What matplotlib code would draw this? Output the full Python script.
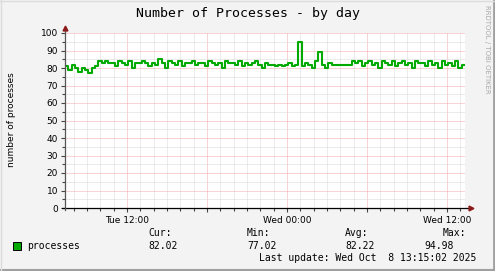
import numpy as np
import matplotlib
matplotlib.use("Agg")
import matplotlib.pyplot as plt
from matplotlib.patches import Rectangle
from matplotlib.lines import Line2D

# hours since Tue 00:00, one sample every 15 minutes
t_start = 7.35
t_step = 0.25
processes = [
    81, 79, 82, 80, 78, 80, 79, 77, 80, 81,
    84,
    83, 84, 83, 83, 81, 84, 83, 82, 84, 80, 83, 83, 84, 83, 81,
    83, 82, 85, 83, 80, 84, 83, 82, 84, 81, 83, 83, 84, 82, 83,
    83, 81, 84, 83, 82, 83, 80, 84, 83, 83, 82, 84, 81, 83, 82,
    83, 84, 82, 80, 83, 82, 82, 81, 82, 81, 82, 83, 81, 82,
    95,
    81, 83, 82, 80, 84,
    89,
    82, 80, 83, 82, 82, 82, 82, 82, 82,
    84, 83, 84, 81, 83, 84, 82, 83, 80, 84, 83, 82, 84, 81, 83, 84, 82,
    83, 80, 84, 83, 83, 81, 84, 82, 83, 80, 84, 82, 83, 81, 84, 80, 82,
]
x_ticks = [12, 24, 36]
x_tick_labels = ["Tue 12:00", "Wed 00:00", "Wed 12:00"]
y_ticks = list(range(0, 101, 10))
stats_names = ["Cur:", "Min:", "Avg:", "Max:"]
stats_values = ["82.02", "77.02", "82.22", "94.98"]

W, H = 495, 271
fig = plt.figure(figsize=(W / 100, H / 100), dpi=100, facecolor="#F3F3F3")


def fx(x):
    return x / W


def fy(y):
    return 1 - y / H


ax = fig.add_axes([fx(65), fy(208), 400 / W, 175 / H])
ax.set_facecolor("white")
for s in ax.spines.values():
    s.set_visible(False)

t = t_start + t_step * np.arange(len(processes))
t = np.append(t, 37.25)
vals = processes + [processes[-1]]
ax.plot(t, vals, color="#00AA00", lw=1.5, drawstyle="steps-post", zorder=3)

ax.set_xlim(7.35, 37.35)
ax.set_ylim(0, 100)

ax.set_xticks([12, 18, 24, 30, 36])
ax.set_xticklabels([x_tick_labels[0], "", x_tick_labels[1], "", x_tick_labels[2]])
ax.set_xticks(np.arange(8, 38, 1), minor=True)
ax.set_yticks(y_ticks)
ax.set_yticks(np.arange(5, 100, 10), minor=True)

ax.tick_params(axis="both", which="major", length=3, width=0.8, color="#444444",
               labelsize=6.5, pad=2)
ax.tick_params(axis="both", which="minor", length=2, width=0.8, color="#444444")
ax.tick_params(axis="x", which="major", pad=3)

# dotted grid, like rrdtool
grid_dash = (0, (1, 1))
ax.grid(which="major", color="#F2A8A8", lw=0.72, linestyle=grid_dash)
ax.grid(which="minor", color="#D8D8D8", lw=0.72, linestyle=grid_dash)
ax.set_axisbelow(True)

# axis lines with arrows
ax.plot([7.1, 37.75], [0, 0], color="black", lw=0.9, clip_on=False, zorder=4)
ax.plot([7.35, 7.35], [-1.2, 102.5], color="#555555", lw=0.9, clip_on=False, zorder=4)
ax.plot([37.8], [0], marker=">", ms=3.5, color="#8B1A1A", clip_on=False, zorder=5)
ax.plot([7.35], [102.8], marker="^", ms=3.5, color="#8B1A1A", clip_on=False, zorder=5)

mono = "DejaVu Sans Mono"
fig.text(fx(248), fy(14), "Number of Processes - by day", family=mono, fontsize=9.5,
         ha="center", va="center")
fig.text(fx(12), fy(120), "number of processes", fontsize=6.5, rotation=90,
         ha="center", va="center")
fig.text(fx(486.5), fy(5), "RRDTOOL / TOBI OETIKER", fontsize=5, rotation=270,
         ha="center", va="top", color="#AAAAAA")

# legend
fig.patches.append(Rectangle((fx(13), fy(250)), 8 / W, 8 / H, transform=fig.transFigure,
                             facecolor="#00AA00", edgecolor="black", lw=0.7))
fig.text(fx(27), fy(246), "processes", family=mono, fontsize=7, va="center")
name_x = [148, 247, 345, 443]
val_x = [148, 247, 345, 424]
for n, v, nx, vx in zip(stats_names, stats_values, name_x, val_x):
    fig.text(fx(nx), fy(233), n, family=mono, fontsize=7, va="center")
    fig.text(fx(vx), fy(246), v, family=mono, fontsize=7, va="center")
fig.text(fx(259), fy(258), "Last update: Wed Oct  8 13:15:02 2025", family=mono,
         fontsize=7, va="center")

# 3d-ish frame
fig.lines.append(Line2D([fx(0), fx(W - 1)], [fy(H - 1), fy(H - 1)], transform=fig.transFigure,
                        color="#A0A0A0", lw=1.5))
fig.lines.append(Line2D([fx(W - 1), fx(W - 1)], [fy(0), fy(H)], transform=fig.transFigure,
                        color="#A0A0A0", lw=2))
fig.lines.append(Line2D([fx(0.5), fx(0.5)], [fy(0), fy(H)], transform=fig.transFigure,
                        color="#DCDCDC", lw=1))
fig.lines.append(Line2D([fx(0), fx(W)], [fy(0.5), fy(0.5)], transform=fig.transFigure,
                        color="#DCDCDC", lw=1))

fig.savefig("out.png", dpi=100, facecolor=fig.get_facecolor())
